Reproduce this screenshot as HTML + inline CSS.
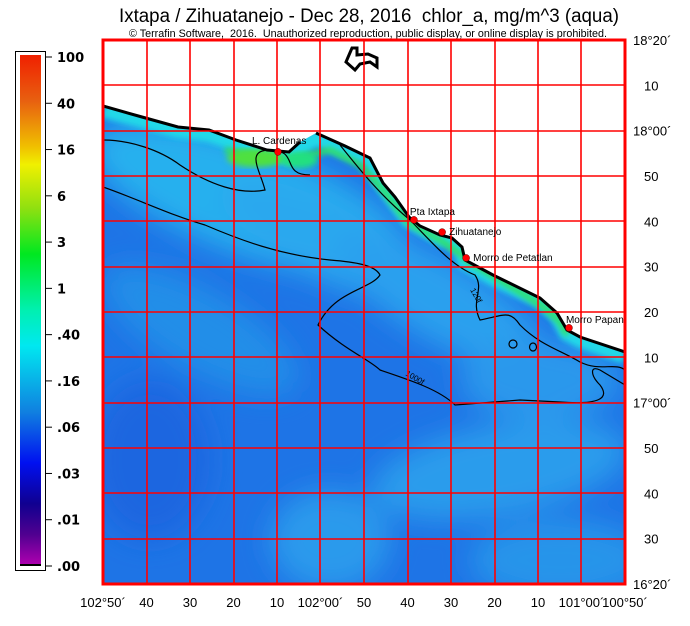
<!DOCTYPE html>
<html><head><meta charset="utf-8"><style>
html,body{margin:0;padding:0;background:#fff;}
svg{display:block;font-family:"Liberation Sans",Arial,sans-serif;}
</style></head><body>
<svg id="c" width="690" height="626" viewBox="0 0 690 626">
<defs>
<linearGradient id="cb" x1="0" y1="0" x2="0" y2="1">
<stop offset="0" stop-color="#f02000"/><stop offset="0.09" stop-color="#e86010"/>
<stop offset="0.18" stop-color="#f0c000"/><stop offset="0.215" stop-color="#f0f000"/>
<stop offset="0.3" stop-color="#90e010"/><stop offset="0.39" stop-color="#00e820"/>
<stop offset="0.5" stop-color="#00f0b0"/><stop offset="0.57" stop-color="#00e8f0"/>
<stop offset="0.7" stop-color="#1080e0"/><stop offset="0.8" stop-color="#0010f0"/>
<stop offset="0.88" stop-color="#100090"/><stop offset="0.94" stop-color="#500090"/>
<stop offset="1" stop-color="#b000b0"/></linearGradient>
<filter id="bl" x="-50%" y="-50%" width="200%" height="200%"><feGaussianBlur stdDeviation="14"/></filter>
<filter id="bl2"><feGaussianBlur stdDeviation="3"/></filter>
<clipPath id="mc"><rect x="103" y="40" width="522" height="544"/></clipPath>
</defs>

<text x="369" y="22" text-anchor="middle" font-size="19" textLength="500" lengthAdjust="spacingAndGlyphs" xml:space="preserve">Ixtapa / Zihuatanejo - Dec 28, 2016  chlor_a, mg/m^3 (aqua)</text>
<text x="368" y="37" text-anchor="middle" font-size="11" textLength="478" lengthAdjust="spacingAndGlyphs" xml:space="preserve">© Terrafin Software,  2016.  Unauthorized reproduction, public display, or online display is prohibited.</text>

<g clip-path="url(#mc)">
<rect x="103" y="40" width="522" height="544" fill="#1e74e6"/>
<g filter="url(#bl)">
<ellipse cx="250" cy="200" rx="170" ry="55" fill="#26b0ee" transform="rotate(20 250 200)"/>
<ellipse cx="330" cy="240" rx="120" ry="40" fill="#2aa8ee" transform="rotate(25 330 240)"/>
<ellipse cx="440" cy="300" rx="120" ry="40" fill="#2aa0ee" transform="rotate(30 440 300)"/>
<ellipse cx="540" cy="380" rx="80" ry="40" fill="#2a98ec"/>
<ellipse cx="500" cy="470" rx="130" ry="45" fill="#2c9cec" transform="rotate(-10 500 470)"/>
<ellipse cx="330" cy="540" rx="60" ry="50" fill="#2c9aec"/>
<ellipse cx="560" cy="560" rx="90" ry="40" fill="#2894ea"/>
<ellipse cx="200" cy="330" rx="110" ry="40" fill="#248ee8" transform="rotate(30 200 330)"/>
<ellipse cx="150" cy="460" rx="60" ry="80" fill="#1a66e0"/>
</g>
<polyline filter="url(#bl2)" fill="none" stroke="#20d8e8" stroke-width="16" points="103,110 142,120 178,130 209,134 236,143 267,153 289,156 316,138 345,150 370,160 383,185 409,220 440,238 452,240 462,250 465,262 493,278 540,300 557,315 567,333 580,340 625,356"/>
<polyline filter="url(#bl2)" fill="none" stroke="#30e060" stroke-width="6" points="225,150 267,158 289,160 330,150 360,165 383,190 409,223 440,240 462,255 470,262 520,292 545,308 560,322 567,335"/>
<ellipse cx="255" cy="158" rx="28" ry="9" fill="#50e040" filter="url(#bl2)"/>
<ellipse cx="300" cy="160" rx="18" ry="8" fill="#20e080" filter="url(#bl2)"/>
<polygon points="103,40 625,40 625,352 580,337 567,330 557,313 540,298 493,275 465,260 462,247 452,238 440,235 420,226 409,217 395,197 383,183 370,158 345,146 316,133 300,142 289,152 267,150 236,140 209,130 178,127 142,117 103,106" fill="#fff"/>
<polyline fill="none" stroke="#000" stroke-width="3" points="103,106 142,117 178,127 209,130 236,140 267,150 289,152 300,142"/>
<polyline fill="none" stroke="#000" stroke-width="3" points="316,133 345,146 370,158 383,183 395,197 409,217 420,226 440,235 452,238 462,247 465,260 493,275 540,298 557,313 567,330 580,337 625,352"/>
<path d="M352,48 L357,48 L357,55 L368,54 L377,58 L377,67 L370,62 L360,64 L355,70 L346,62 L349,55 Z" fill="none" stroke="#000" stroke-width="3"/>
<g fill="none" stroke="#000" stroke-width="1.2">
<path d="M103,140 C130,140 160,150 180,165 C210,185 240,195 265,190 C260,170 245,150 270,150 C300,150 280,175 310,175"/>
<path d="M103,187 C140,200 170,215 205,225 C240,240 280,255 330,260 C355,262 375,265 380,275 C370,290 335,290 318,325 C345,350 370,360 380,370 C410,380 440,390 455,405 L520,400 L560,402 C600,405 610,398 600,385 C590,375 590,365 600,370 L625,385"/>
<path d="M340,145 C360,170 380,195 410,220 C430,240 450,265 475,275 C485,290 470,300 480,320 C505,315 510,310 520,325 C540,345 560,350 580,362 C600,372 615,362 625,370"/>
<ellipse cx="513" cy="344" rx="4" ry="4"/><ellipse cx="533" cy="347" rx="3.5" ry="4"/>
</g>
<text x="470" y="290" font-size="8" transform="rotate(60 470 290)">120f</text>
<text x="405" y="375" font-size="8" transform="rotate(30 405 375)">1000f</text>
<g id="grid"></g>
<g id="places"></g>
</g>
<rect x="103" y="40" width="522" height="544" fill="none" stroke="#f00" stroke-width="3"/>
<g id="axes" font-size="13"></g>

<rect x="15.5" y="51.5" width="30" height="519" fill="#fff" stroke="#000"/>
<rect x="20" y="55" width="21" height="510" fill="url(#cb)"/>
<rect x="20" y="564" width="21" height="2" fill="#000"/>
<g id="cbticks" font-family="DejaVu Sans,sans-serif" font-weight="bold" font-size="13"></g>
</svg>
<script>
const lonLabels = ["102°50´","40","30","20","10","102°00´","50","40","30","20","10","101°00´","100°50´"];
const latLabels = ["18°20´","10","18°00´","50","40","30","20","10","17°00´","50","40","30","16°20´"];
const cbLabels = ["100","40","16","6","3","1",".40",".16",".06",".03",".01",".00"];
const placeNames = ["L. Cardenas","Pta Ixtapa","Zihuatanejo","Morro de Petatlan","Morro Papan"];
const placeLon = [-102.163,-101.642,-101.534,-101.442,-101.048];
const placeLat = [17.922,17.672,17.627,17.532,17.275];

const NS="http://www.w3.org/2000/svg";
const x0=103,x1=625,y0=40,y1=584;
const lonMin=-102.8333,lonMax=-100.8333,latMin=16.3333,latMax=18.3333;
const xs=l=>x0+(l-lonMin)/(lonMax-lonMin)*(x1-x0);
const ys=l=>y1-(l-latMin)/(latMax-latMin)*(y1-y0);
function mk(t,a,p){const e=document.createElementNS(NS,t);for(const k in a)e.setAttribute(k,a[k]);p.appendChild(e);return e;}
const grid=document.getElementById('grid'),axes=document.getElementById('axes');
lonLabels.forEach((s,i)=>{
  const x=xs(lonMin+i/6);
  const xp=Math.round(x);
  const ln=mk('line',{x1:xp,x2:xp,y1:y0,y2:y1,stroke:'#ff0000','stroke-width':1.6},grid);
  
  
  const t=mk('text',{x:x,y:607,'text-anchor':'middle'},axes);t.textContent=s;
  
  
});
latLabels.forEach((s,i)=>{
  const y=ys(latMax-i/6);
  const yp=Math.round(y);
  const ln=mk('line',{x1:x0,x2:x1,y1:yp,y2:yp,stroke:'#ff0000','stroke-width':1.6},grid);
  
  
  const t=mk('text',{x:i==0||i==2||i==8||i==12?633:644,y:y+5},axes);t.textContent=s;
  
  
});
const pl=document.getElementById('places');
const offs=[[-26,-8],[-4,-5],[7,3],[7,3],[-3,-5]];
placeNames.forEach((n,i)=>{
  const x=xs(placeLon[i]),y=ys(placeLat[i]);
  const c=mk('circle',{cx:x,cy:y,r:3.5,fill:'#f00',stroke:'#600','stroke-width':0.5},pl);
  
  
  const t=mk('text',{x:x+offs[i][0],y:y+offs[i][1],'font-size':10,fill:'#000'},pl);t.textContent=n;
  
  
});
const cbt=document.getElementById('cbticks');
cbLabels.forEach((s,i)=>{
  const y=57+i*(566-57)/(cbLabels.length-1);
  const l=mk('line',{x1:46,x2:52,y1:y,y2:y,stroke:'#000'},cbt);
  
  
  const t=mk('text',{x:57,y:y+5},cbt);t.textContent=s;
  
  
});
</script>
</body></html>
